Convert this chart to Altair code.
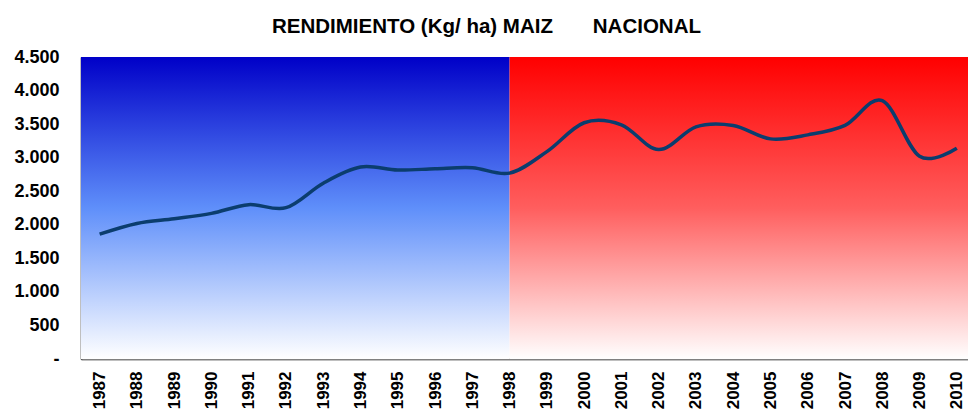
import altair as alt
import pandas as pd

years = list(range(1987, 2011))
rendimiento = [1860, 2020, 2090, 2170, 2300, 2255, 2620, 2860, 2815, 2835, 2850, 2770,
               3090, 3520, 3490, 3120, 3460, 3480, 3280, 3340, 3480, 3850, 3020, 3140]

x_min, x_split, x_max = 1986.5, 1998, 2010.3
y_max = 4500
y_ticks = list(range(0, 4501, 500))

df = pd.DataFrame({"year": years, "value": rendimiento})
bg_blue = pd.DataFrame({"x": [x_min], "x2": [x_split], "y": [0], "y2": [y_max]})
bg_red = pd.DataFrame({"x": [x_split], "x2": [x_max], "y": [0], "y2": [y_max]})

FONT = "Liberation Sans"

xscale = alt.Scale(domain=[x_min, x_max], nice=False, zero=False)
yscale = alt.Scale(domain=[0, y_max], nice=False)

xaxis = alt.Axis(values=years, format="d", labelAngle=270,
                 labelPadding=12, labelFontSize=17, labelFontWeight="bold",
                 labelFont=FONT, labelColor="#000000", ticks=False,
                 grid=False, domainColor="#808080", domainWidth=2,
                 labelOverlap=False, labelFlush=False)
yaxis = alt.Axis(values=y_ticks,
                 labelExpr="datum.value == 0 ? '-' : replace(format(datum.value, ','), ',', '.')",
                 labelPadding=22, labelFontSize=18, labelFontWeight="bold",
                 labelFont=FONT, labelColor="#000000", ticks=False,
                 grid=False, domainColor="#000000", domainWidth=1.5,
                 labelOverlap=False, labelFlush=False)

blue_grad = alt.Gradient(
    gradient="linear", x1=0, x2=0, y1=0, y2=1,
    stops=[alt.GradientStop(color="#0000C8", offset=0),
           alt.GradientStop(color="#5F8FFA", offset=0.5),
           alt.GradientStop(color="#FFFFFF", offset=1)])
red_grad = alt.Gradient(
    gradient="linear", x1=0, x2=0, y1=0, y2=1,
    stops=[alt.GradientStop(color="#FF0000", offset=0),
           alt.GradientStop(color="#FF5E5E", offset=0.5),
           alt.GradientStop(color="#FFFFFF", offset=1)])

blue = alt.Chart(bg_blue).mark_rect(color=blue_grad).encode(
    x=alt.X("x:Q", scale=xscale, axis=xaxis, title=None), x2="x2:Q",
    y=alt.Y("y:Q", scale=yscale, axis=yaxis, title=None), y2="y2:Q")
red = alt.Chart(bg_red).mark_rect(color=red_grad).encode(
    x=alt.X("x:Q", scale=xscale, axis=xaxis, title=None), x2="x2:Q",
    y=alt.Y("y:Q", scale=yscale, axis=yaxis, title=None), y2="y2:Q")

line = alt.Chart(df).mark_line(color="#0B3D6E", strokeWidth=3.5,
                               interpolate="cardinal").encode(
    x=alt.X("year:Q", scale=xscale, title=None, axis=xaxis),
    y=alt.Y("value:Q", scale=yscale, title=None, axis=yaxis))

chart = alt.layer(blue, red, line).properties(
    width=887, height=302,
    autosize=alt.AutoSizeParams(type="none"),
    padding={"left": 73, "top": 49, "right": 0, "bottom": 52},
    title=alt.Title("RENDIMIENTO (Kg/ ha) MAIZ\u00a0\u00a0\u00a0\u00a0\u00a0\u00a0\u00a0NACIONAL",
                    font=FONT, fontSize=20.5, fontWeight="bold", color="#000000",
                    anchor="middle", dx=-38, dy=8, offset=3, baseline="alphabetic"),
).configure_view(stroke=None).configure(background="#FFFFFF")

chart.save("out.html", embed_options={"renderer": "svg", "actions": False})
